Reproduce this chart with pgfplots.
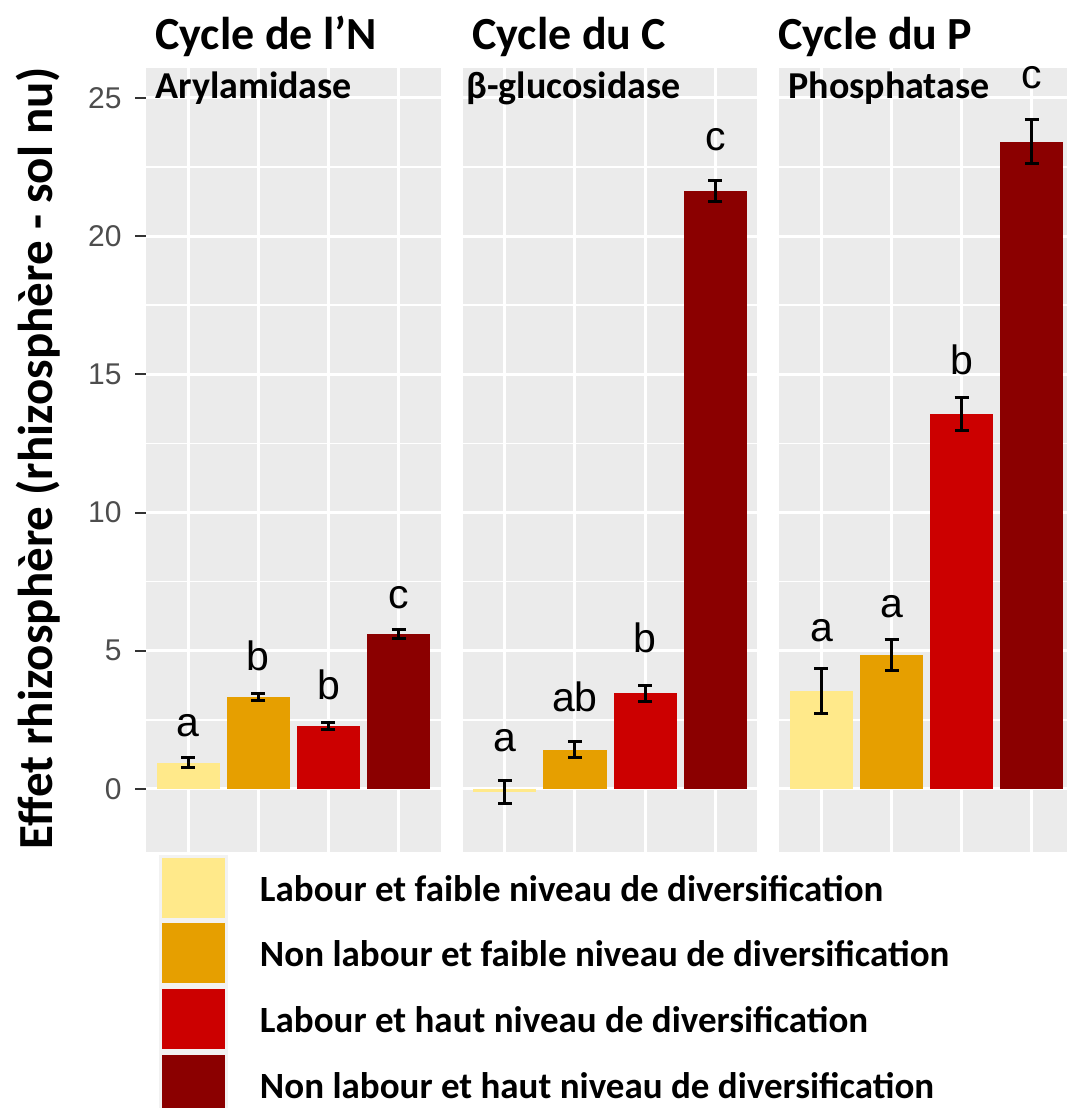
\documentclass[border=0pt]{standalone}
\usepackage{pgfplots}
\pgfplotsset{compat=1.18}
\usepackage{fontspec}
\setmainfont{Carlito}
\newfontfamily\arial{Liberation Sans}
\definecolor{cA}{HTML}{FFE98A}
\definecolor{cB}{HTML}{E69F00}
\definecolor{cC}{HTML}{CC0000}
\definecolor{cD}{HTML}{8B0000}
\definecolor{panelbg}{HTML}{EBEBEB}
\definecolor{tickgray}{HTML}{333333}
\definecolor{labgray}{HTML}{4D4D4D}
\definecolor{keybg}{HTML}{F2F2F2}
\tikzset{letter/.style={font=\arial\fontsize{20.5}{20.5}\selectfont, anchor=base, inner sep=0pt}}
\pgfplotsset{
  panel/.style={
    scale only axis, width=147.35pt, height=391.85pt,
    xmin=0.4, xmax=4.6, ymin=-2.27, ymax=26.08,
    anchor=south west,
    axis background/.style={fill=panelbg},
    axis line style={draw=none},
    xtick={1,2,3,4}, xticklabels={},
    ytick={0,5,10,15,20,25}, minor ytick={2.5,7.5,12.5,17.5,22.5},
    minor tick length=0pt,
    xmajorgrids, ymajorgrids, yminorgrids,
    major grid style={white, line width=1.5pt},
    minor grid style={white, line width=0.8pt},
    ybar, bar width=0.9, bar shift=0pt,
    clip=false,
    error bars/y dir=both, error bars/y explicit,
    error bars/error bar style={draw=black, line width=1.5pt},
    error bars/error mark options={rotate=90, draw=black, line width=1.5pt, mark size=3.5pt},
  },
}
\begin{document}
\begin{tikzpicture}
\path[use as bounding box] (0pt,0pt) rectangle (533pt,554pt);

% Panel 1
\begin{axis}[panel, at={(73pt,128.15pt)},
  tick align=outside, major tick length=5.5pt, ytick pos=left,
  xtick style={draw=none},
  ytick style={tickgray, line width=1pt},
  yticklabel style={font=\arial\fontsize{15}{15}\selectfont, text=labgray, anchor=east, inner sep=0pt, xshift=-6.5pt},
  /pgf/number format/assume math mode=true,
  legend cell align=left,
  legend image code/.code={
    \fill[keybg] (0pt,-15.4pt) rectangle (34.5pt,17.4pt);
    \fill[#1,draw=none] (1.5pt,-14pt) rectangle (33pt,16pt);
  },
  legend style={at={(rel axis cs:0.0441,-0.0042)}, anchor=north west,
    draw=none, fill=none, inner sep=0pt, outer sep=0pt, row sep=0pt,
    font=\bfseries\fontsize{18.5}{18.5}\selectfont,
    nodes={inner sep=0pt},
    /tikz/every odd column/.append style={column sep=16pt}},
]
\addplot[fill=cA, draw=none] coordinates {(1,0.95) +- (0,0.17)};
\addlegendentry{Labour et faible niveau de diversification}
\addplot[fill=cB, draw=none] coordinates {(2,3.32) +- (0,0.12)};
\addlegendentry{Non labour et faible niveau de diversification}
\addplot[fill=cC, draw=none] coordinates {(3,2.27) +- (0,0.12)};
\addlegendentry{Labour et haut niveau de diversification}
\addplot[fill=cD, draw=none] coordinates {(4,5.61) +- (0,0.16)};
\addlegendentry{Non labour et haut niveau de diversification}
\node[letter] at (axis cs:1,1.88) {a};
\node[letter] at (axis cs:2,4.27) {b};
\node[letter] at (axis cs:3,3.22) {b};
\node[letter] at (axis cs:4,6.51) {c};
\end{axis}

% Panel 2
\begin{axis}[panel, at={(231.35pt,128.15pt)},
  major tick length=0pt, yticklabels={}]
\addplot[fill=cA, draw=none] coordinates {(1,-0.1) +- (0,0.41)};
\addplot[fill=cB, draw=none] coordinates {(2,1.41) +- (0,0.29)};
\addplot[fill=cC, draw=none] coordinates {(3,3.47) +- (0,0.29)};
\addplot[fill=cD, draw=none] coordinates {(4,21.64) +- (0,0.38)};
\node[letter] at (axis cs:1,1.36) {a};
\node[letter] at (axis cs:2,2.81) {ab};
\node[letter] at (axis cs:3,4.92) {b};
\node[letter] at (axis cs:4,23.09) {c};
\end{axis}

% Panel 3
\begin{axis}[panel, at={(389.65pt,128.15pt)},
  major tick length=0pt, yticklabels={}]
\addplot[fill=cA, draw=none] coordinates {(1,3.54) +- (0,0.81)};
\addplot[fill=cB, draw=none] coordinates {(2,4.84) +- (0,0.56)};
\addplot[fill=cC, draw=none] coordinates {(3,13.55) +- (0,0.60)};
\addplot[fill=cD, draw=none] coordinates {(4,23.42) +- (0,0.81)};
\node[letter] at (axis cs:1,5.35) {a};
\node[letter] at (axis cs:2,6.20) {a};
\node[letter] at (axis cs:3,14.98) {b};
\node[letter] at (axis cs:4,25.35) {c};
\end{axis}

% Titles and subtitles
\node[anchor=base west, inner sep=0pt, font=\bfseries\fontsize{23}{23}\selectfont] at (77.5pt,529pt) {Cycle de l’N};
\node[anchor=base west, inner sep=0pt, font=\bfseries\fontsize{23}{23}\selectfont] at (236pt,529pt) {Cycle du C};
\node[anchor=base west, inner sep=0pt, font=\bfseries\fontsize{23}{23}\selectfont] at (389pt,529pt) {Cycle du P};
\node[anchor=base west, inner sep=0pt, font=\bfseries\fontsize{19}{19}\selectfont] at (77.5pt,504.5pt) {Arylamidase};
\node[anchor=base west, inner sep=0pt, font=\bfseries\fontsize{19}{19}\selectfont] at (233pt,504.5pt) {β-glucosidase};
\node[anchor=base west, inner sep=0pt, font=\bfseries\fontsize{19}{19}\selectfont] at (394pt,504.5pt) {Phosphatase};
% y label
\node[rotate=90, anchor=base, inner sep=0pt, font=\bfseries\fontsize{24.5}{24.5}\selectfont] at (26pt,325pt) {Effet rhizosphère (rhizosphère - sol nu)};
\end{tikzpicture}
\end{document}
